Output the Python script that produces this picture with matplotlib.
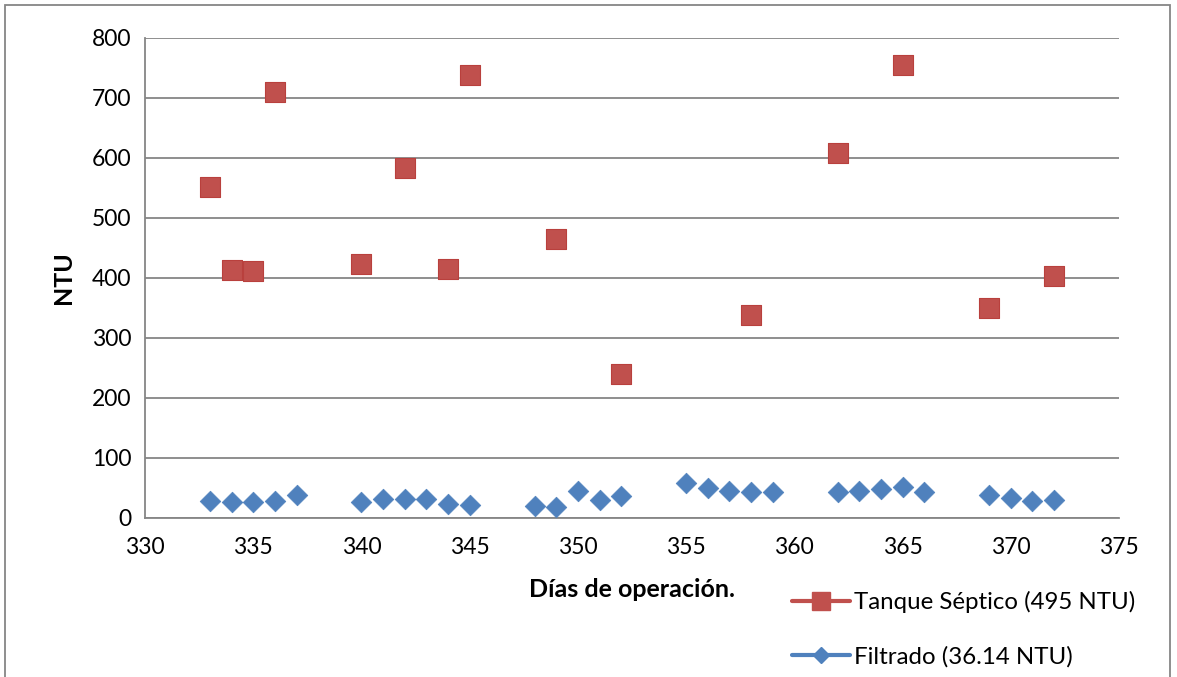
import matplotlib.pyplot as plt
from matplotlib.lines import Line2D
from matplotlib.patches import Rectangle

plt.rcParams['font.family'] = ['Lato', 'DejaVu Sans']

dias_tanque = [333, 334, 335, 336, 340, 342, 344, 345, 349, 352, 358, 362, 365, 369, 372]
ntu_tanque = [552, 413, 412, 710, 423, 583, 415, 738, 465, 240, 338, 608, 755, 350, 403]

dias_filtrado = [333, 334, 335, 336, 337, 340, 341, 342, 343, 344, 345, 348, 349, 350, 351,
                 352, 355, 356, 357, 358, 359, 362, 363, 364, 365, 366, 369, 370, 371, 372]
ntu_filtrado = [29, 27, 27, 29, 38, 27, 31, 31, 32, 23, 21, 20, 18, 45, 30,
                36, 58, 50, 45, 43, 43, 43, 45, 48, 52, 43, 38, 34, 29, 30]

x_ticks = [330, 335, 340, 345, 350, 355, 360, 365, 370, 375]
y_ticks = [0, 100, 200, 300, 400, 500, 600, 700, 800]

red = '#C0504D'
blue = '#4F81BD'
grey = '#868686'

fig = plt.figure(figsize=(11.77, 6.77), dpi=100)
ax = fig.add_axes([0.1232, 0.2349, 0.8275, 0.709])

ax.scatter(dias_tanque, ntu_tanque, marker='s', s=14**2, color=red,
           edgecolors='#B9403D', linewidths=0.8, zorder=3)
ax.scatter(dias_filtrado, ntu_filtrado, marker='D', s=10.5**2, color=blue,
           edgecolors=blue, linewidths=0.5, zorder=3)

ax.set_xlim(330, 375)
ax.set_ylim(0, 800)
ax.set_xticks(x_ticks)
ax.set_yticks(y_ticks)
ax.tick_params(length=0, labelsize=16.5, pad=10)
ax.tick_params(axis='x', pad=14)
ax.yaxis.grid(True, color=grey, linewidth=1.3)
ax.set_axisbelow(True)
for s in ['top', 'right']:
    ax.spines[s].set_visible(False)
for s in ['left', 'bottom']:
    ax.spines[s].set_color(grey)
    ax.spines[s].set_linewidth(1.3)

ax.set_xlabel('Días de operación.', fontsize=18, fontweight='bold', labelpad=14)
ax.set_ylabel('NTU', fontsize=18, fontweight='bold', labelpad=12)

handles = [
    Line2D([], [], color=red, marker='s', markersize=12.5, linewidth=3,
           solid_capstyle='round', label='Tanque Séptico (495 NTU)'),
    Line2D([], [], color=blue, marker='D', markersize=8.5, linewidth=3,
           solid_capstyle='round', label='Filtrado (36.14 NTU)'),
]
fig.legend(handles=handles, loc='upper left', bbox_to_anchor=(0.665, 0.141),
           frameon=False, fontsize=17.3, handlelength=2.4, handletextpad=0.15,
           labelspacing=1.35, borderaxespad=0)

fig.patches.append(Rectangle((5 / 1177, -0.01), 1165 / 1177, 1 - 5 / 677 + 0.01,
                             transform=fig.transFigure, fill=False,
                             edgecolor=grey, linewidth=1.3))

fig.savefig('out.png', dpi=100)
